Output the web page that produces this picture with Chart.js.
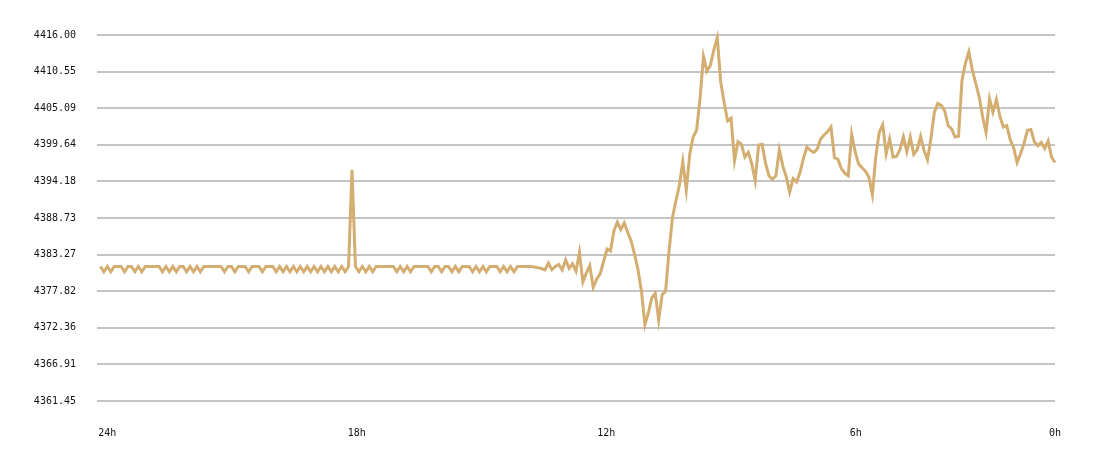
<!DOCTYPE html>
<html>
<head>
<meta charset="utf-8">
<script src="https://cdn.jsdelivr.net/npm/chart.js@4.4.1/dist/chart.umd.min.js"></script>
<style>
  html, body { margin: 0; padding: 0; background: #fff; }
  #wrap { width: 1100px; height: 458px; }
</style>
</head>
<body>
<div id="wrap"><canvas id="priceChart" width="1100" height="458"></canvas></div>
<script>
// one sample every 5 minutes, oldest first
const sampleMinutes = 5;
const H = 4381.5, L = 4380.7;

const prices = [
  H, L, H, L, H, H, H, L, H, H,
  L, H, L, H, H, H, H, H, L, H,
  L, H, L, H, H, L, H, L, H, L,
  H, H, H, H, H, H, L, H, H, L,
  H, H, H, L, H, H, H, L, H, H,
  H, L, H, L, H, L, H, L, H, L,
  H, L, H, L, H, L, H, L, H, L,
  H, L, H, 4395.9, H, L, H, L, H, L,
  H, H, H, H, H, H, L, H, L, H,
  L, H, H, H, H, H, L, H, H, L,
  H, H, L, H, L, H, H, H, L, H,
  L, H, L, H, H, H, L, H, L, H,
  L, H, H, H, H, H, 4381.4, 4381.3, 4381.2, 4381.0,
  4382.0, 4381.0, 4381.5, 4381.8, 4381.0, 4382.5, 4381.2, 4381.9, 4380.8, 4383.6,
  4379.2, 4380.5, 4381.6, 4378.4, 4379.6, 4380.4, 4382.2, 4384.1, 4383.8, 4386.8,
  4388.1, 4387.0, 4388.0, 4386.6, 4385.3, 4383.3, 4381.0, 4377.8, 4372.8, 4374.6,
  4376.8, 4377.5, 4373.5, 4377.3, 4377.8, 4383.8, 4388.8, 4391.3, 4393.6, 4397.1,
  4392.9, 4398.2, 4400.8, 4401.8, 4406.6, 4412.8, 4410.6, 4411.5, 4413.8, 4415.6,
  4409.0, 4405.9, 4403.2, 4403.6, 4397.3, 4400.1, 4399.7, 4397.8, 4398.5, 4396.8,
  4394.3, 4399.6, 4399.7, 4396.9, 4395.0, 4394.5, 4395.0, 4398.9, 4396.5, 4394.9,
  4392.6, 4394.6, 4394.1, 4395.5, 4397.6, 4399.3, 4398.8, 4398.5, 4399.0, 4400.5,
  4401.1, 4401.6, 4402.3, 4397.7, 4397.5, 4396.1, 4395.4, 4395.0, 4401.2, 4398.6,
  4396.8, 4396.2, 4395.7, 4394.8, 4392.2, 4397.9, 4401.5, 4402.6, 4398.3, 4400.5,
  4397.8, 4397.9, 4398.9, 4400.8, 4398.6, 4400.8, 4398.2, 4398.9, 4400.9, 4398.8,
  4397.4, 4400.6, 4404.5, 4405.8, 4405.5, 4404.7, 4402.5, 4402.0, 4400.8, 4400.9,
  4409.2, 4411.8, 4413.5, 4410.8, 4408.8, 4406.8, 4403.8, 4401.5, 4406.5, 4404.5,
  4406.4, 4403.9, 4402.3, 4402.5, 4400.4, 4399.2, 4397.0, 4398.3, 4399.8, 4401.8,
  4401.9, 4400.1, 4399.5, 4400.0, 4399.1, 4400.2, 4397.8, 4397.0, 4397.1
];

const yTicks = [4361.45, 4366.91, 4372.36, 4377.82, 4383.27, 4388.73, 4394.18, 4399.64, 4405.09, 4410.55, 4416.00];
const xTickMinutes = [10, 372, 734, 1096, 1385];
const xTickLabels = ['24h', '18h', '12h', '6h', '0h'];

const points = prices.map(function (p, i) {
  return { x: i * sampleMinutes, y: p };
});

const tickFont = { family: "'DejaVu Sans Mono', monospace", size: 10 };

const ctx = document.getElementById('priceChart').getContext('2d');
const priceChart = new Chart(ctx, {
  type: 'line',
  data: {
    datasets: [{
      data: points,
      borderColor: '#d4ad71',
      borderWidth: 3,
      pointRadius: 0,
      tension: 0,
      fill: false,
      clip: 5
    }]
  },
  options: {
    responsive: false,
    animation: false,
    layout: { padding: { top: 35, right: 45, bottom: 0, left: 0 } },
    plugins: {
      legend: { display: false },
      tooltip: { enabled: false }
    },
    scales: {
      x: {
        type: 'linear',
        min: -5,
        max: 1385,
        grid: { display: false, drawTicks: false },
        border: { display: false },
        afterBuildTicks: function (scale) {
          scale.ticks = xTickMinutes.map(function (v) { return { value: v }; });
        },
        afterFit: function (scale) { scale.height = 57; },
        ticks: {
          padding: 26,
          maxRotation: 0,
          autoSkip: false,
          color: '#111',
          font: tickFont,
          callback: function (value) {
            const k = xTickMinutes.indexOf(value);
            return k >= 0 ? xTickLabels[k] : '';
          }
        }
      },
      y: {
        min: yTicks[0],
        max: yTicks[yTicks.length - 1],
        grid: { color: '#c4c4c4', lineWidth: 2, drawTicks: false },
        border: { display: false },
        afterBuildTicks: function (scale) {
          scale.ticks = yTicks.map(function (v) { return { value: v }; });
        },
        afterFit: function (scale) { scale.width = 97; },
        ticks: {
          padding: 21,
          color: '#111',
          font: tickFont,
          callback: function (value) { return value.toFixed(2); }
        }
      }
    }
  }
});
</script>
</body>
</html>
